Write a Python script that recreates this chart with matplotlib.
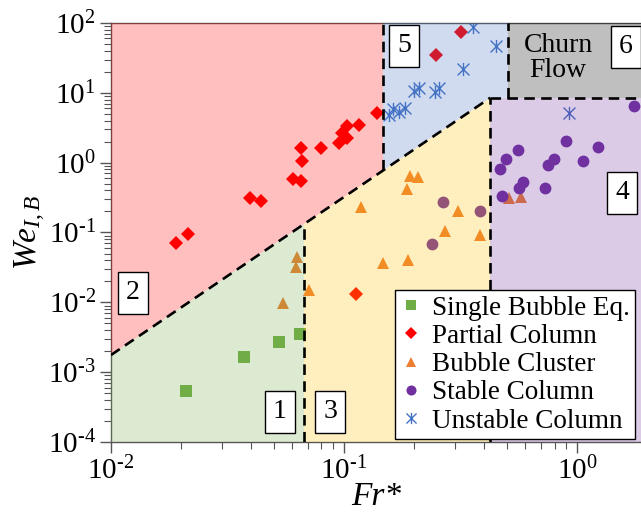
import numpy as np
import matplotlib
matplotlib.use("Agg")
import matplotlib.pyplot as plt
from matplotlib.path import Path
from matplotlib.patches import Polygon
from matplotlib.font_manager import FontProperties

plt.rcParams['font.family'] = ['Liberation Serif', 'DejaVu Serif']
plt.rcParams['mathtext.fontset'] = 'custom'
plt.rcParams['mathtext.rm'] = 'Liberation Serif'
plt.rcParams['mathtext.it'] = 'Liberation Serif:italic'
plt.rcParams['mathtext.default'] = 'rm'

# ---------------- data ----------------
single_x = [0.0209, 0.0372, 0.0526, 0.0647]
single_y = [5.3e-4, 1.65e-3, 2.66e-3, 3.5e-3]

partial_x = [0.0190, 0.0215, 0.0393, 0.0439, 0.0601, 0.0656, 0.0657, 0.0654, 0.0800,
             0.0955, 0.0977, 0.1027, 0.1027, 0.1164, 0.139, 0.248, 0.317, 0.1124]
partial_y = [0.0716, 0.0946, 0.316, 0.284, 0.581, 0.543, 1.05, 1.645, 1.645,
             1.94, 2.70, 3.37, 2.24, 3.44, 5.22, 35.0, 74.1, 0.0131]

cluster_x = [0.0627, 0.0622, 0.0710, 0.0549, 0.118, 0.147, 0.188, 0.191, 0.208, 0.186,
             0.309, 0.271, 0.383, 0.511, 0.575]
cluster_y = [0.0452, 0.0324, 0.0151, 0.0097, 0.235, 0.036, 0.0398, 0.652, 0.632, 0.424,
             0.205, 0.106, 0.0925, 0.315, 0.327]

stable_x = [0.266, 0.383, 0.239, 1.75, 0.469, 0.494, 0.556, 0.475, 0.565, 0.588,
            0.729, 0.753, 0.797, 0.897, 1.064, 1.234]
stable_y = [0.273, 0.203, 0.0687, 6.45, 0.82, 1.12, 1.51, 0.336, 0.432, 0.536,
            0.432, 0.94, 1.14, 2.07, 1.05, 1.70]

unstable_x = [0.359, 0.449, 0.323, 0.200, 0.210, 0.246, 0.256, 0.156, 0.162, 0.172,
              0.183, 0.927]
unstable_y = [86.8, 46.7, 21.9, 10.7, 11.8, 10.3, 11.6, 4.84, 5.90, 5.34, 6.10, 5.12]

x_ticks = [0.01, 0.1, 1]
x_exps = ['-2', '-1', '0']
y_ticks = [1e-4, 1e-3, 1e-2, 1e-1, 1, 10, 100]
y_exps = ['-4', '-3', '-2', '-1', '0', '1', '2']

# regime boundaries
x_b13 = 0.0673
x_b25 = 0.147
x_b34 = 0.424
x_b56 = 0.506
y_h = 8.5
diag_y0 = 1.76e-3  # at x = xmin

xmin, xmax = 0.01, 1.88
ymin, ymax = 1e-4, 100


def yd(x):
    # straight line in log-log space from (xmin, diag_y0) to (x_b34, y_h)
    lx0, ly0 = np.log10(xmin), np.log10(diag_y0)
    lx1, ly1 = np.log10(x_b34), np.log10(y_h)
    return 10 ** (ly0 + (ly1 - ly0) * (np.log10(x) - lx0) / (lx1 - lx0))


def explabel(e):
    if e.startswith('-'):
        return '$10^{\\text{-}' + e[1:] + '}$'
    return '$10^{' + e + '}$'


fig = plt.figure(figsize=(6.41, 5.13), dpi=100)
ax = fig.add_axes([111 / 641, 71 / 513, 530 / 641, 419 / 513])
ax.set_xscale('log')
ax.set_yscale('log')
ax.set_xlim(xmin, xmax)
ax.set_ylim(ymin, ymax)

star = Path([(0, -1), (0, 1), (-0.9, -0.9), (0.9, 0.9), (-0.9, 0.9), (0.9, -0.9)],
            [Path.MOVETO, Path.LINETO, Path.MOVETO, Path.LINETO, Path.MOVETO, Path.LINETO])

c_green = '#70AD47'
c_red = '#FF0000'
c_orange = '#ED7D31'
c_purple = '#7030A0'
c_blue = '#4472C4'

ax.plot(single_x, single_y, 's', color=c_green, ms=8, mew=0, zorder=2, label='Single Bubble Eq.')
ax.plot(partial_x, partial_y, 'D', color=c_red, ms=7, mew=0, zorder=2, label='Partial Column')
ax.plot(cluster_x, cluster_y, '^', color=c_orange, ms=9, mew=0, zorder=2, label='Bubble Cluster')
ax.plot(stable_x, stable_y, 'o', color=c_purple, ms=8.5, mew=0, zorder=2, label='Stable Column')
ax.plot(unstable_x, unstable_y, marker=star, ls='none', color=c_blue, mfc='none', ms=9.5,
        mew=1.0, zorder=2, label='Unstable Column')

# regime regions (translucent, on top of points)
regions = [
    ([(xmin, yd(xmin)), (x_b25, yd(x_b25)), (x_b25, ymax), (xmin, ymax)], '#FF0000'),
    ([(xmin, ymin), (x_b13, ymin), (x_b13, yd(x_b13)), (xmin, yd(xmin))], '#70AD47'),
    ([(x_b13, ymin), (x_b34, ymin), (x_b34, y_h), (x_b13, yd(x_b13))], '#FFC000'),
    ([(x_b25, yd(x_b25)), (x_b34, y_h), (x_b56, y_h), (x_b56, ymax), (x_b25, ymax)], '#4472C4'),
    ([(x_b34, ymin), (xmax, ymin), (xmax, y_h), (x_b34, y_h)], '#7030A0'),
    ([(x_b56, y_h), (xmax, y_h), (xmax, ymax), (x_b56, ymax)], '#000000'),
]
for verts, col in regions:
    ax.add_patch(Polygon(verts, closed=True, facecolor=col, alpha=0.25, lw=0, zorder=3))

dash = dict(color='black', lw=1.9, ls=(0, (4, 2.4)), zorder=4)
ax.plot([xmin, x_b34], [yd(xmin), y_h], **dash)
ax.plot([x_b13, x_b13], [ymin, yd(x_b13)], **dash)
ax.plot([x_b25, x_b25], [yd(x_b25), ymax], **dash)
ax.plot([x_b34, x_b34], [ymin, y_h], **dash)
ax.plot([x_b34, xmax], [y_h, y_h], **dash)
ax.plot([x_b56, x_b56], [y_h, ymax], **dash)

serif = 'Liberation Serif'

# regime number boxes
box = dict(boxstyle='square,pad=0.3', fc='white', ec='black', lw=1.0)
def px2data(px, py):
    lx = -2 + (px - 111) / 233
    ly = -4 + (442 - py) / 69.8
    return 10 ** lx, 10 ** ly

for lab, (px, py) in [('1', (280, 412)), ('3', (330, 412)), ('2', (133, 293)),
                      ('5', (404, 46)), ('4', (622, 193)), ('6', (626, 47))]:
    xx, yy = px2data(px, py)
    ax.text(xx, yy, lab, fontsize=20, family=serif, ha='center', va='center', bbox=box, zorder=6)
xx, yy = px2data(558, 58)
ax.text(xx, yy, 'Churn\nFlow', fontsize=20, family=serif, ha='center', va='center',
        linespacing=1.0, zorder=6)

# axes styling
for s in ['left', 'bottom', 'top']:
    ax.spines[s].set_color('#555555')
    ax.spines[s].set_linewidth(1.0)
ax.spines['right'].set_visible(False)
ax.set_xticks(x_ticks)
ax.set_xticklabels([explabel(e) for e in x_exps])
ax.set_yticks(y_ticks)
ax.set_yticklabels([explabel(e) for e in y_exps])
ax.tick_params(axis='both', which='major', direction='out', length=8, width=1.0,
               color='#555555', labelsize=21, pad=3)
ax.tick_params(axis='both', which='minor', direction='out', length=5, width=0.8, color='#555555')
ax.tick_params(top=False, right=False, which='both')

ax.set_xlabel('Fr*', fontsize=24, family=serif, style='italic', labelpad=-3)
ax.set_ylabel('$\\mathit{We}_{\\mathit{I,B}}$', fontsize=24, labelpad=0)

leg = ax.legend(loc='lower right', prop=FontProperties(family=serif, size=19.5),
                frameon=True, fancybox=False, edgecolor='black', framealpha=1.0,
                handlelength=0.8, handletextpad=0.35, borderpad=0.2, labelspacing=0.12,
                borderaxespad=0, markerscale=0.85)
leg.set_bbox_to_anchor((0, 3 / 419, (635 - 111) / 530, 1), transform=ax.transAxes)
leg.set_zorder(10)
leg.get_frame().set_linewidth(1.0)

fig.savefig('out.png', dpi=100)
